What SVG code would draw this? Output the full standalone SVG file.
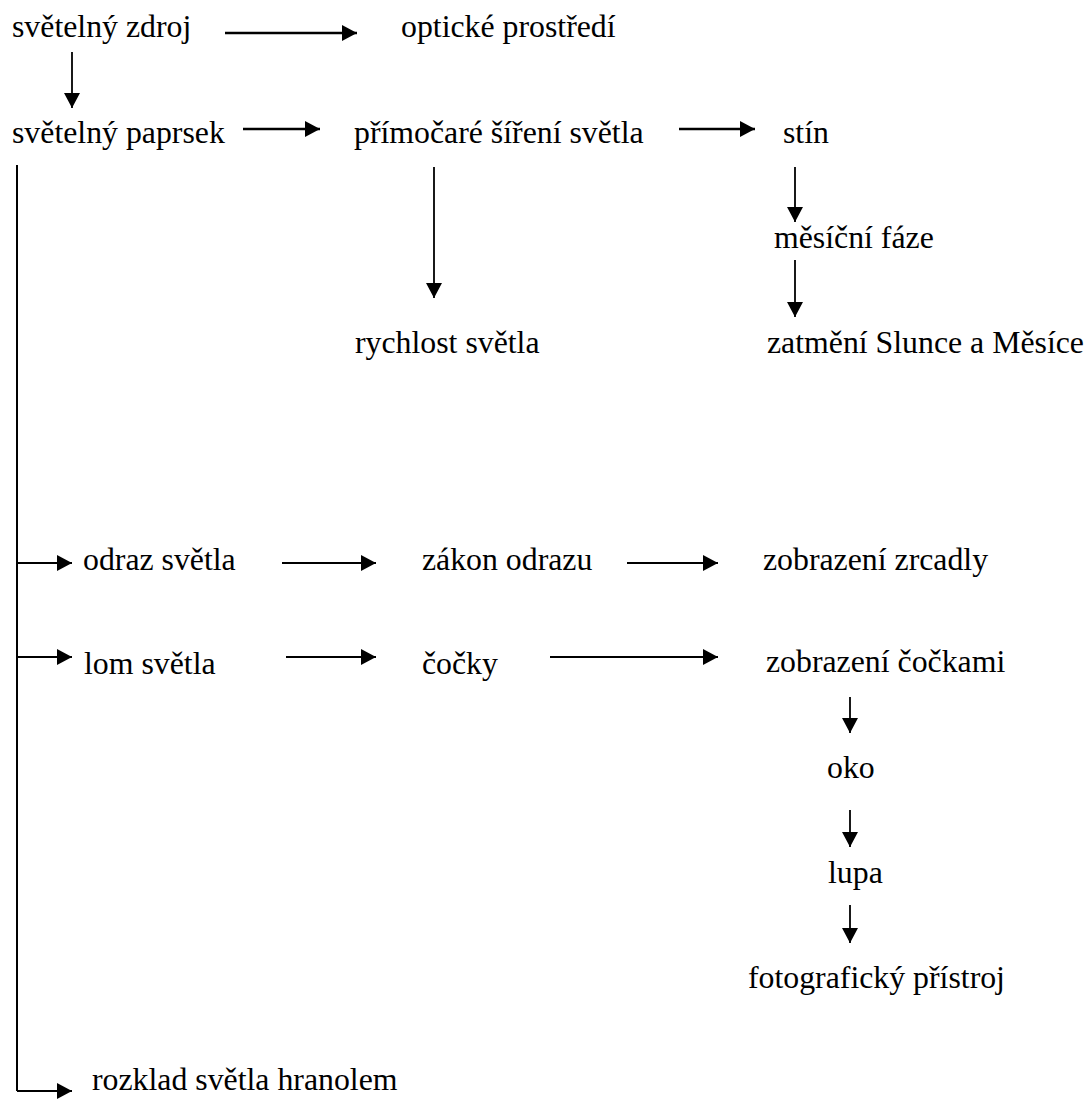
<svg xmlns="http://www.w3.org/2000/svg" width="1087" height="1099" viewBox="0 0 1087 1099">
<defs>
<style>
text{font-family:"Liberation Serif","Times New Roman",serif;font-size:31.8px;fill:#000}
.h{stroke:#000;stroke-width:2.6;fill:none;marker-end:url(#ah)}
.g{stroke:#000;stroke-width:2.2;fill:none;marker-end:url(#ah)}
.v{stroke:#000;stroke-width:1.8;fill:none;marker-end:url(#ah)}
.t{stroke:#000;stroke-width:2;fill:none}
</style>
<marker id="ah" markerUnits="userSpaceOnUse" markerWidth="16" markerHeight="16" refX="15" refY="8" orient="auto"><path d="M0,0 L15,8 L0,16 z" fill="#000"/></marker>
</defs>
<rect width="1087" height="1099" fill="#fff"/>
<g id="connectors">
<line class="h" x1="225" y1="33" x2="357" y2="33"/>
<line class="v" x1="72" y1="52" x2="72" y2="108"/>
<line class="h" x1="243" y1="129" x2="320" y2="129"/>
<line class="h" x1="679" y1="129" x2="755" y2="129"/>
<line class="v" x1="434" y1="167" x2="434" y2="298"/>
<line class="v" x1="795" y1="167" x2="795" y2="222"/>
<line class="v" x1="795" y1="260" x2="795" y2="317"/>
<line class="t" x1="17" y1="165" x2="17" y2="1091"/>
<line class="g" x1="17" y1="563" x2="72" y2="563"/>
<line class="g" x1="17" y1="657" x2="72" y2="657"/>
<line class="g" x1="17" y1="1091" x2="72" y2="1091"/>
<line class="g" x1="282" y1="563" x2="376" y2="563"/>
<line class="g" x1="627" y1="563" x2="718" y2="563"/>
<line class="g" x1="286" y1="657" x2="376" y2="657"/>
<line class="g" x1="550" y1="657" x2="718" y2="657"/>
<line class="v" x1="850" y1="697" x2="850" y2="733"/>
<line class="v" x1="850" y1="810" x2="850" y2="847"/>
<line class="v" x1="850" y1="905" x2="850" y2="943"/>
</g>
<g id="n1"><text x="12" y="37">světelný zdroj</text></g>
<g id="n2"><text x="401" y="37">optické prostředí</text></g>
<g id="n3"><text x="12" y="143">světelný paprsek</text></g>
<g id="n4"><text x="354" y="143">přímočaré šíření světla</text></g>
<g id="n5"><text x="783" y="143">stín</text></g>
<g id="n6"><text x="774" y="248">měsíční fáze</text></g>
<g id="n7"><text x="355" y="353">rychlost světla</text></g>
<g id="n8"><text x="767" y="353">zatmění Slunce a Měsíce</text></g>
<g id="n9"><text x="83" y="570">odraz světla</text></g>
<g id="n10"><text x="422" y="570">zákon odrazu</text></g>
<g id="n11"><text x="763" y="570">zobrazení zrcadly</text></g>
<g id="n12"><text x="84" y="674">lom světla</text></g>
<g id="n13"><text x="422" y="674">čočky</text></g>
<g id="n14"><text x="766" y="672">zobrazení čočkami</text></g>
<g id="n15"><text x="827" y="778">oko</text></g>
<g id="n16"><text x="828" y="883">lupa</text></g>
<g id="n17"><text x="748" y="988">fotografický přístroj</text></g>
<g id="n18"><text x="92" y="1090">rozklad světla hranolem</text></g>
</svg>
